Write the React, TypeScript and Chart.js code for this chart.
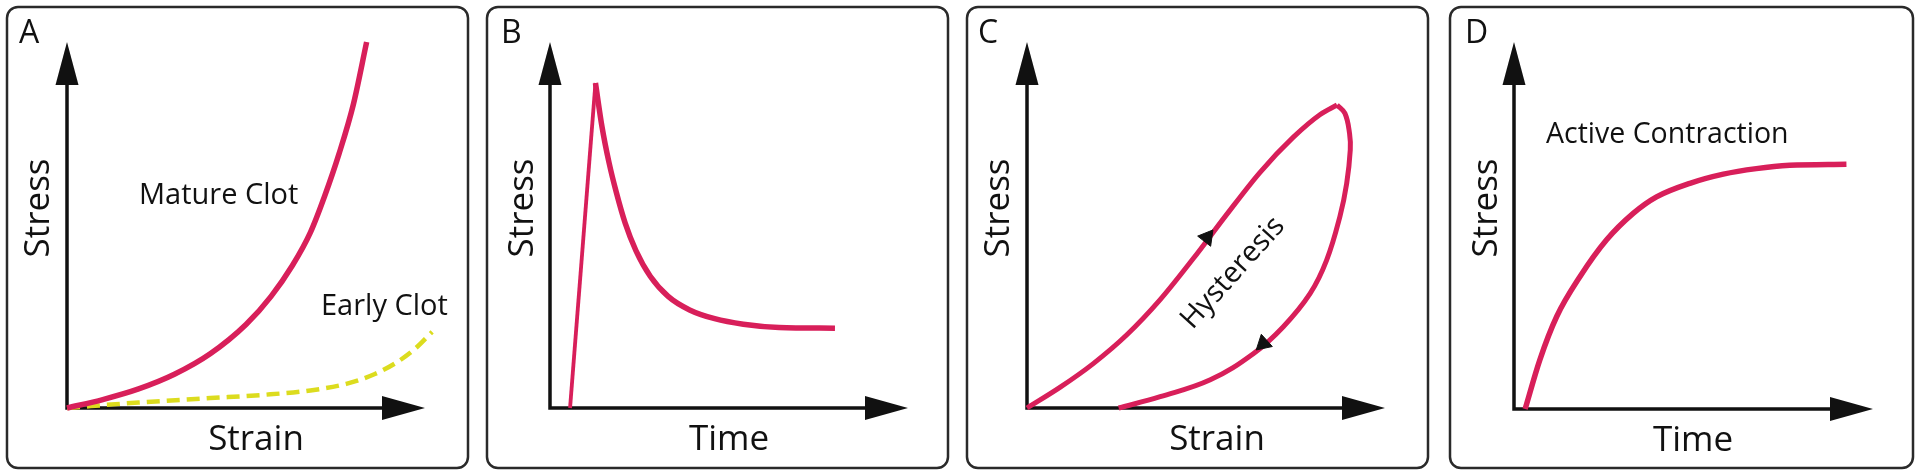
import React, { useEffect, useRef } from "react";
import { Chart, registerables } from "chart.js";

Chart.register(...registerables);

const FONT = '"Open Sans", "DejaVu Sans", sans-serif';
const RED = "#d81f5a";
const YELLOW = "#dcdc1e";
const INK = "#111111";
const FRAME = "#2a2a2a";

// ---------- Panel A: stress vs strain ----------
const matureStrain = [0, 10, 20, 30, 40, 50, 57, 63, 68, 72, 76, 80, 83.7];
const matureStress = [0, 2.3, 5.2, 9.2, 14.8, 22.8, 30.5, 39.0, 48.0, 58.0, 69.5, 83.0, 100];
const earlyStrain = [0, 20, 40, 55, 68, 78, 86, 92, 97, 102];
const earlyStress = [0, 1.5, 2.7, 3.6, 4.8, 6.6, 9.3, 12.4, 16.0, 20.8];

// ---------- Panel B: stress relaxation ----------
const riseTime = [5.6, 12.7];
const riseStress = [0, 88.8];
const decayTime = [12.7, 14.5, 16.5, 18.5, 21, 24, 28, 33, 39, 46, 54, 64, 79.6];
const decayStress = [88.8, 77, 67, 59, 50.5, 43, 36, 30.5, 26.8, 24.4, 22.9, 22.0, 21.8];

// ---------- Panel C: hysteresis loop ----------
const loadStrain = [0, 9.3, 18.6, 27.9, 37.2, 46.5, 55.8, 65.1, 74.4, 81.9, 86.6];
const loadStress = [0, 5.7, 12.2, 20.0, 29.6, 40.9, 52.9, 64.4, 74.0, 80.2, 82.8];
const unloadStrain = [86.6, 88.8, 90.1, 90.3, 89.3, 87.4, 83.7, 79.1, 71.6, 63.3, 51.2, 37.2, 25.6];
const unloadStress = [82.8, 80.5, 75.0, 70.5, 61.4, 52.3, 40.4, 31.3, 22.2, 14.9, 7.7, 3.1, 0];
const arrowStrain = [50.3, 66.0];
const arrowStress = [46.6, 17.6];
const arrowAngle = [38, 228];

// ---------- Panel D: active contraction ----------
const contractTime = [3.1, 7.2, 11.9, 18.4, 25.8, 33.2, 39.7, 49.0, 58.3, 67.5, 76.8, 92.6];
const contractStress = [0, 13.4, 25.2, 36.1, 46.1, 53.3, 57.8, 61.5, 64.0, 65.5, 66.4, 66.7];

const panelLetters = ["A", "B", "C", "D"];
const xTitles = ["Strain", "Time", "Strain", "Time"];
const yTitle = "Stress";

const zip = (xs: number[], ys: number[]) => xs.map((x, i) => ({ x, y: ys[i] }));

type TextItem = {
  text: string;
  x: number;
  y: number;
  size: number;
  align?: CanvasTextAlign;
  rot?: number;
  baseline?: CanvasTextBaseline;
};

type Panel = {
  left: number;
  box: [number, number, number, number];
  origin: [number, number];
  tip: [number, number];
  texts: TextItem[];
  datasets: any[];
};

const W = 480;
const H = 476;

const lineDefaults = {
  showLine: true,
  pointRadius: 0,
  pointHoverRadius: 0,
  fill: false,
  clip: false as any,
  borderCapStyle: "butt" as CanvasLineCap,
  borderJoinStyle: "round" as CanvasLineJoin,
};

function commonTexts(i: number, letterX: number, stressX: number, titleX: number, titleY: number): TextItem[] {
  return [
    { text: panelLetters[i], x: letterX, y: 43, size: 32, align: "left" },
    { text: yTitle, x: stressX, y: 208, size: 35, align: "center", rot: -Math.PI / 2, baseline: "middle" },
    { text: xTitles[i], x: titleX, y: titleY, size: 35, align: "center" },
  ];
}

const panels: Panel[] = [
  {
    left: 0,
    box: [7, 7, 468, 468],
    origin: [67, 408],
    tip: [425, 42],
    texts: [
      ...commonTexts(0, 19, 39, 256, 450),
      { text: "Mature Clot", x: 139, y: 204, size: 29, align: "left" },
      { text: "Early Clot", x: 321, y: 315, size: 29, align: "left" },
    ],
    datasets: [
      {
        ...lineDefaults,
        label: "Mature Clot",
        data: zip(matureStrain, matureStress),
        borderColor: RED,
        borderWidth: 5.5,
        cubicInterpolationMode: "monotone",
      },
      {
        ...lineDefaults,
        label: "Early Clot",
        data: zip(earlyStrain, earlyStress),
        borderColor: YELLOW,
        borderWidth: 4.5,
        borderDash: [13, 7],
        cubicInterpolationMode: "monotone",
      },
    ],
  },
  {
    left: 480,
    box: [7, 7, 468, 468],
    origin: [70, 408],
    tip: [428, 42],
    texts: [...commonTexts(1, 21, 43, 249, 450)],
    datasets: [
      {
        ...lineDefaults,
        label: "Loading",
        data: zip(riseTime, riseStress),
        borderColor: RED,
        borderWidth: 3.8,
        tension: 0,
      },
      {
        ...lineDefaults,
        label: "Relaxation",
        data: zip(decayTime, decayStress),
        borderColor: RED,
        borderWidth: 5.5,
        cubicInterpolationMode: "monotone",
      },
    ],
  },
  {
    left: 960,
    box: [7, 7, 468, 468],
    origin: [67, 408],
    tip: [425, 42],
    texts: [
      ...commonTexts(2, 18, 39, 257, 450),
      { text: "Hysteresis", x: 273, y: 273, size: 29, align: "center", rot: (-48 * Math.PI) / 180, baseline: "middle" },
    ],
    datasets: [
      {
        label: "Direction",
        data: zip(arrowStrain, arrowStress),
        showLine: false,
        pointStyle: "triangle",
        pointRadius: 9.5,
        pointHoverRadius: 9.5,
        rotation: arrowAngle,
        backgroundColor: INK,
        borderColor: INK,
        borderWidth: 1,
        clip: false,
      },
      {
        ...lineDefaults,
        label: "Loading",
        data: zip(loadStrain, loadStress),
        borderColor: RED,
        borderWidth: 5,
        cubicInterpolationMode: "monotone",
      },
      {
        ...lineDefaults,
        label: "Unloading",
        data: zip(unloadStrain, unloadStress),
        borderColor: RED,
        borderWidth: 5,
        tension: 0.4,
      },
    ],
  },
  {
    left: 1440,
    box: [10, 7, 473, 468],
    origin: [74, 409],
    tip: [433, 42],
    texts: [
      ...commonTexts(3, 25, 47, 253, 451),
      { text: "Active Contraction", x: 106, y: 143, size: 28.5, align: "left" },
    ],
    datasets: [
      {
        ...lineDefaults,
        label: "Active Contraction",
        data: zip(contractTime, contractStress),
        borderColor: RED,
        borderWidth: 5.5,
        cubicInterpolationMode: "monotone",
      },
    ],
  },
];

function makeDecor(p: Panel) {
  return {
    id: "decor",
    beforeDatasetsDraw(chart: any) {
      const { ctx } = chart;
      const xs = chart.scales.x;
      const ys = chart.scales.y;
      const ox = xs.getPixelForValue(0);
      const oy = ys.getPixelForValue(0);
      const tx = xs.getPixelForValue(100);
      const ty = ys.getPixelForValue(100);
      ctx.save();
      // frame
      ctx.strokeStyle = FRAME;
      ctx.lineWidth = 2.5;
      ctx.beginPath();
      const [bx0, by0, bx1, by1] = p.box;
      (ctx as any).roundRect(bx0, by0, bx1 - bx0, by1 - by0, 11);
      ctx.stroke();
      // axes
      ctx.strokeStyle = INK;
      ctx.fillStyle = INK;
      ctx.lineWidth = 3.5;
      ctx.lineJoin = "miter";
      ctx.lineCap = "butt";
      ctx.beginPath();
      ctx.moveTo(ox, ty + 30);
      ctx.lineTo(ox, oy);
      ctx.lineTo(tx - 30, oy);
      ctx.stroke();
      ctx.beginPath();
      ctx.moveTo(ox, ty);
      ctx.lineTo(ox - 11.5, ty + 43);
      ctx.lineTo(ox + 11.5, ty + 43);
      ctx.closePath();
      ctx.fill();
      ctx.beginPath();
      ctx.moveTo(tx, oy);
      ctx.lineTo(tx - 43, oy - 12);
      ctx.lineTo(tx - 43, oy + 12);
      ctx.closePath();
      ctx.fill();
      // texts
      for (const t of p.texts) {
        ctx.save();
        ctx.font = `${t.size}px ${FONT}`;
        ctx.fillStyle = INK;
        ctx.textAlign = t.align || "left";
        ctx.textBaseline = t.baseline || "alphabetic";
        ctx.translate(t.x, t.y);
        if (t.rot) ctx.rotate(t.rot);
        ctx.fillText(t.text, 0, 0);
        ctx.restore();
      }
      ctx.restore();
    },
  };
}

function PanelChart({ p }: { p: Panel }) {
  const ref = useRef<HTMLCanvasElement | null>(null);
  useEffect(() => {
    if (!ref.current) return;
    const chart = new Chart(ref.current, {
      type: "scatter",
      data: { datasets: p.datasets },
      options: {
        responsive: false,
        animation: false,
        events: [],
        layout: {
          padding: {
            left: p.origin[0],
            top: p.tip[1],
            right: W - p.tip[0],
            bottom: H - p.origin[1],
          },
        },
        scales: {
          x: { type: "linear", min: 0, max: 100, display: false },
          y: { type: "linear", min: 0, max: 100, display: false },
        },
        plugins: {
          legend: { display: false },
          tooltip: { enabled: false },
          title: { display: false },
        },
      },
      plugins: [makeDecor(p)],
    } as any);
    return () => chart.destroy();
  }, [p]);
  return (
    <canvas
      ref={ref}
      width={W}
      height={H}
      style={{ position: "absolute", left: p.left, top: 0, width: W, height: H }}
    />
  );
}

export default function App() {
  return (
    <div style={{ position: "absolute", left: 0, top: 0, width: 1920, height: 476, background: "#ffffff" }}>
      {panels.map((p, i) => (
        <PanelChart key={i} p={p} />
      ))}
    </div>
  );
}
